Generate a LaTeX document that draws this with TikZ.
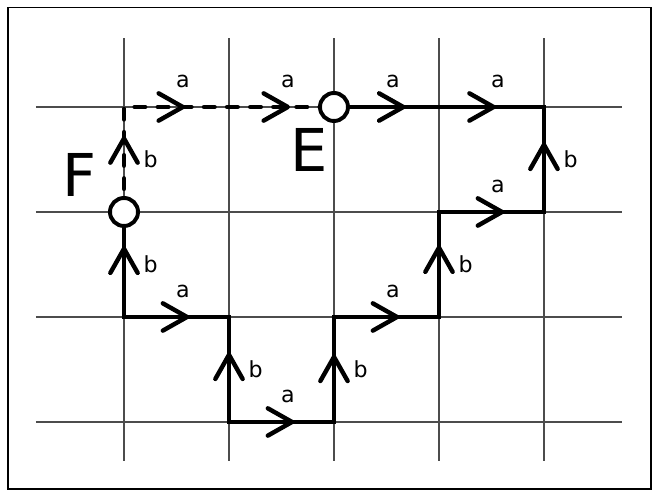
\documentclass[tikz,border=0pt]{standalone}
\usepackage{fontspec}
\setmainfont{DejaVu Sans}
\usetikzlibrary{decorations.markings}
\tikzset{
  gridline/.style={black!70, line width=0.45pt},
  route/.style={line width=1.8pt},
  dashroute/.style={route, line cap=round, dash pattern=on 4.3pt off 5.1pt},
  stop/.style={circle, draw, fill=white, line width=1.6pt, minimum size=0.40cm, inner sep=0pt},
  chev/.style={postaction={decorate}, decoration={markings,
      mark=at position #1 with {\draw[route, solid, line cap=round, line join=round]
        (-0.23,0.13) -- (0,0) -- (-0.23,-0.13);}}},
  alab/.style={pos=0.56, anchor=center, yshift=0.37cm, font=\fontsize{9}{10}\selectfont},
  blab/.style={pos=0.5, anchor=center, xshift=0.38cm, font=\fontsize{9}{10}\selectfont},
  big/.style={font=\fontsize{24}{28}\selectfont}
}
\begin{document}
\begin{tikzpicture}[x=1.5cm, y=1.5cm]
    \useasboundingbox (-1.181,-0.714) rectangle (5.086,4.019);
    \draw[line width=0.6pt] (-1.105,-0.638) rectangle (5.02,3.95);

    % grid
    \foreach \i in {0,...,4}
      \draw[gridline] (\i,-0.37) -- (\i,3.66);
    \foreach \j in {0,...,3}
      \draw[gridline] (-0.84,\j) -- (4.74,\j);
    \foreach \i in {0,...,4}
      \foreach \j in {0,...,3}
        \coordinate (g\i\j) at (\i,\j);

    % path
    \draw[route] (g02) -- (g01) -- (g11) -- (g10) -- (g20) -- (g21) -- (g31)
      -- (g32) -- (g42) -- (g43) -- (g23);
    \draw[dashroute] (g02) -- (g03) -- (g13) -- (g23);

    % arrows and letters
    \foreach \s/\e/\p/\l in {g01/g02/0.65/b, g01/g11/0.6/a, g10/g11/0.64/b,
        g10/g20/0.6/a, g20/g21/0.62/b, g21/g31/0.6/a, g31/g32/0.66/b,
        g32/g42/0.6/a, g42/g43/0.64/b, g33/g43/0.52/a, g23/g33/0.66/a,
        g02/g03/0.7/b, g03/g13/0.56/a, g13/g23/0.56/a}
      \path[chev=\p] (\s) -- (\e) node[\l lab] (l\s\e) {\l};

    \node[stop] (Fpt) at (g02) {};
    \node[stop] (Ept) at (g23) {};
    \node[big] (Flab) at (-0.42,2.35) {F};
    \node[big] (Elab) at (1.76,2.59) {E};
\end{tikzpicture}
\end{document}
